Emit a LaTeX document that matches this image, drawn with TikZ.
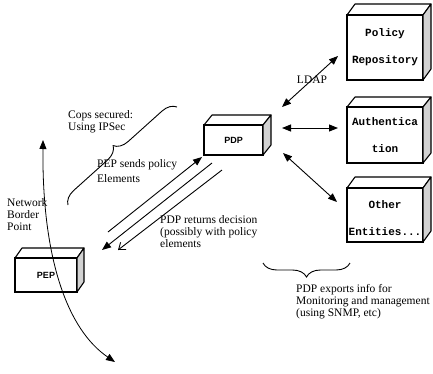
\documentclass[tikz,border=0pt]{standalone}
\usepackage{fontspec}
\setmainfont{Liberation Serif}
\newfontfamily\boxfont{Liberation Mono}
\newfontfamily\tagfont{Liberation Sans}
\usetikzlibrary{arrows.meta,decorations.pathreplacing}
\tikzset{
  edge/.style={line width=1.1pt, line join=round},
  frontface/.style={draw, line width=1.1pt, fill=white, inner sep=0pt, outer sep=0pt},
  bigbox/.style={frontface, minimum width=76pt, align=center,
    font=\boxfont\bfseries\fontsize{11}{27}\selectfont},
  smallbox/.style={frontface, font=\tagfont\bfseries\fontsize{9}{10}\selectfont},
  lbl/.style={align=left, inner sep=0pt, font=\fontsize{11.5}{12}\selectfont},
  conn/.style={line width=0.9pt},
  tip/.tip={Triangle[length=9pt,width=7pt]},
  opentip/.tip={Straight Barb[length=6pt,width=9pt,line width=0.9pt]},
  bracedeco/.style={line width=0.9pt, decorate, decoration={brace, amplitude=#1}}
}
\newcommand\cubefaces[3]{%
  \draw[edge] (#1.north west) -- ([shift={(#2,#3)}]#1.north west) -- ([shift={(#2,#3)}]#1.north east) -- (#1.north east);
  \filldraw[edge, fill=gray!35] (#1.north east) -- ([shift={(#2,#3)}]#1.north east) -- ([shift={(#2,#3)}]#1.south east) -- (#1.south east) -- cycle;
}
\begin{document}
\begin{tikzpicture}[x=1pt,y=1pt]
\useasboundingbox (0,0) rectangle (433,-373);

% boxes
\node[smallbox, minimum width=59pt, minimum height=30pt] (pdp) at (233.5,-140) {PDP};
\cubefaces{pdp}{8}{10}
\node[smallbox, minimum width=62pt, minimum height=34pt] (pep) at (46,-275) {PEP};
\cubefaces{pep}{7}{10}
\node[bigbox, minimum height=65pt] (pol) at (385,-47.5) {Policy\\Repository};
\cubefaces{pol}{8}{11}
\node[bigbox, minimum height=56pt] (auth) at (385,-135) {Authentica\\tion};
\cubefaces{auth}{8}{10}
\node[bigbox, minimum height=54pt, text depth=0pt] (oth) at (385,-215) {\rule{0pt}{14pt}Other\\Entities...};
\cubefaces{oth}{8}{11}

% PDP to right-hand boxes
\coordinate (pdpA) at (282,-107);
\coordinate (polA) at (338,-56);
\coordinate (pdpB) at (282,-128);
\coordinate (authB) at (338,-128);
\coordinate (pdpC) at (283,-153);
\coordinate (othC) at (337,-202);
\draw[conn, tip-tip] (pdpA) -- (polA);
\draw[conn, tip-tip] (pdpB) -- (authB);
\draw[conn, tip-tip] (pdpC) -- (othC);
\node[lbl] (ldap) at (312,-80) {LDAP};

% PEP <-> PDP
\coordinate (s1) at (108,-232);
\coordinate (e1) at (202,-157);
\coordinate (s2) at (212,-163);
\coordinate (e2) at (102,-250);
\coordinate (s3) at (222,-170);
\coordinate (e3) at (118,-250);
\draw[conn, -tip] (s1) -- (e1);
\draw[conn, -tip] (s2) -- (e2);
\draw[conn, -opentip] (s3) -- (e3);

% network border curve
\coordinate (nbtop) at (43,-140);
\coordinate (nbbot) at (115,-362);
\draw[conn, line width=0.8pt, tip-tip] (nbtop) .. controls (42,-260) and (68,-330) .. (nbbot);

% braces
\coordinate (b1s) at (68,-205);
\coordinate (b1e) at (177,-107);
\draw[bracedeco=14pt] (b1s) -- (b1e);
\coordinate (b2s) at (350,-263);
\coordinate (b2e) at (263,-263);
\draw[bracedeco=14pt] (b2s) -- (b2e);

% labels
\node[lbl, anchor=west] (cops) at (68,-122) {Cops secured:\\Using IPSec};
\node[lbl, anchor=west] (sends) at (97,-171) {PEP sends policy\\[3pt]Elements};
\node[lbl, anchor=west] (returns) at (160,-232) {PDP returns decision\\(possibly with policy\\elements};
\node[lbl, anchor=west] (nbp) at (7,-215) {Network\\Border\\Point};
\node[lbl, anchor=west] (exports) at (296,-302) {PDP exports info for\\Monitoring and management\\(using SNMP, etc)};
\end{tikzpicture}
\end{document}
